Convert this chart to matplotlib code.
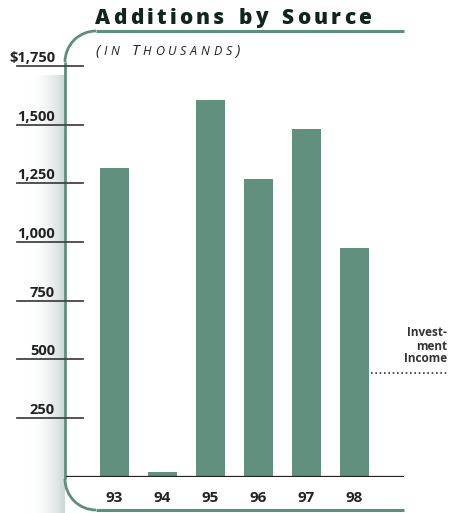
import numpy as np
import matplotlib
matplotlib.use("Agg")
import matplotlib.pyplot as plt
from matplotlib.patches import Arc
from matplotlib.font_manager import FontProperties

# additions by source, in thousands of dollars
years = ["93", "94", "95", "96", "97", "98"]
additions = [1315, 20, 1605, 1270, 1480, 975]
tick_values = [250, 500, 750, 1000, 1250, 1500, 1750]
tick_labels = ["250", "500", "750", "1,000", "1,250", "1,500", "$1,750"]

W, H = 449, 513
bar_color = "#62907f"
frame_color = "#5e8f7c"
font = "Open Sans"

fig = plt.figure(figsize=(W / 100, H / 100), dpi=100)
renderer = fig.canvas.get_renderer()


def text_width(s, prop):
    w, _, _ = renderer.get_text_width_height_descent(s, prop, ismath=False)
    return w


def spaced_text(ax, x0, x1, y, pieces, **kw):
    # lay out (char, size) pieces with even tracking between x0 and x1
    props = [FontProperties(family=kw.get("family"), weight=kw.get("weight", "normal"),
                            style=kw.get("style", "normal"), size=sz) for _, sz in pieces]
    widths = [text_width(c if c != " " else "n", p) * (0.55 if c == " " else 1)
              for (c, _), p in zip(pieces, props)]
    sp = (x1 - x0 - sum(widths)) / (len(pieces) - 1)
    x = x0
    for (c, sz), p, w in zip(pieces, props, widths):
        if c != " ":
            ax.text(x, y, c, fontproperties=p, ha="left", va="baseline",
                    color=kw.get("color", "k"))
        x += w + sp


# background layer in pixel units for the frame and shadow
bg = fig.add_axes([0, 0, 1, 1])
bg.set_xlim(0, W)
bg.set_ylim(H, 0)
bg.axis("off")

# soft shadow left of the frame
grad = np.linspace(0, 1, 64) ** 1.8
shade = np.ones((2, 64, 3))
for k in range(3):
    shade[:, :, k] = 1 - grad * (1 - np.array([0.81, 0.84, 0.84])[k])
bg.imshow(shade, extent=(30, 65, 513, 75), aspect="auto", zorder=0,
          interpolation="bilinear")

# rounded frame
r = 31
bg.plot([65, 65], [31 + r, 510 - r], color=frame_color, lw=2, solid_capstyle="butt")
bg.plot([65 + r, 404], [31, 31], color=frame_color, lw=2.2, solid_capstyle="butt")
bg.plot([65 + r, 404], [510, 510], color=frame_color, lw=2.2, solid_capstyle="butt")
bg.add_patch(Arc((65 + r, 31 + r), 2 * r, 2 * r, theta1=180, theta2=270,
                 color=frame_color, lw=2))
bg.add_patch(Arc((65 + r, 510 - r), 2 * r, 2 * r, theta1=90, theta2=180,
                 color=frame_color, lw=2))

# title and unit note, letter-spaced
spaced_text(bg, 95, 371, 23.5, [(c, 15) for c in "Additions by Source"],
            family=font, weight="heavy", color="#10251c")
sub = [("(", 11), ("I", 9), ("N", 9), (" ", 11), ("T", 11)] + \
      [(c, 9) for c in "HOUSANDS"] + [(")", 11)]
spaced_text(bg, 95, 240, 55, sub, family=font, style="italic", color="#222222")

# side note with dotted leader
bg.text(447, 346, "Invest-\nment\nIncome", ha="right", va="center",
        fontsize=8.5, fontweight="bold", family=font, color="#333333",
        linespacing=1.0)
bg.plot([371, 447], [373, 373], color="#333333", lw=1.2, ls=(0, (1, 1.6)))

# bar chart axes
y0, y1 = 476.5, 66
ax = fig.add_axes([66 / W, (H - y0) / H, (404 - 66) / W, (y0 - y1) / H])
ax.patch.set_alpha(0)
ax.axis("off")
x = np.arange(len(years))
ax.set_xlim((66 - 114.5) / 48, (404 - 114.5) / 48)
ax.set_ylim(0, 1750)
ax.bar(x, additions, width=29 / 48, color=bar_color, zorder=2)
ax.axhline(0, color="#222222", lw=1.6, zorder=3)

for xi, lab in zip(x, years):
    ax.text(xi, -92, lab, ha="center", va="center", fontsize=11,
            fontweight="bold", family=font, color="#222222")

# tick rules to the left of the frame
xt0, xt1 = (17 - 114.5) / 48, (83 - 114.5) / 48
for v, lab in zip(tick_values, tick_labels):
    ax.plot([xt0, xt1], [v, v], color="#444444", lw=1.3, clip_on=False)
    ax.text((55 - 114.5) / 48, v + 17, lab, ha="right", va="baseline",
            fontsize=10.5, fontweight="bold", family=font, color="#222222")

fig.savefig("out.png", dpi=100)
